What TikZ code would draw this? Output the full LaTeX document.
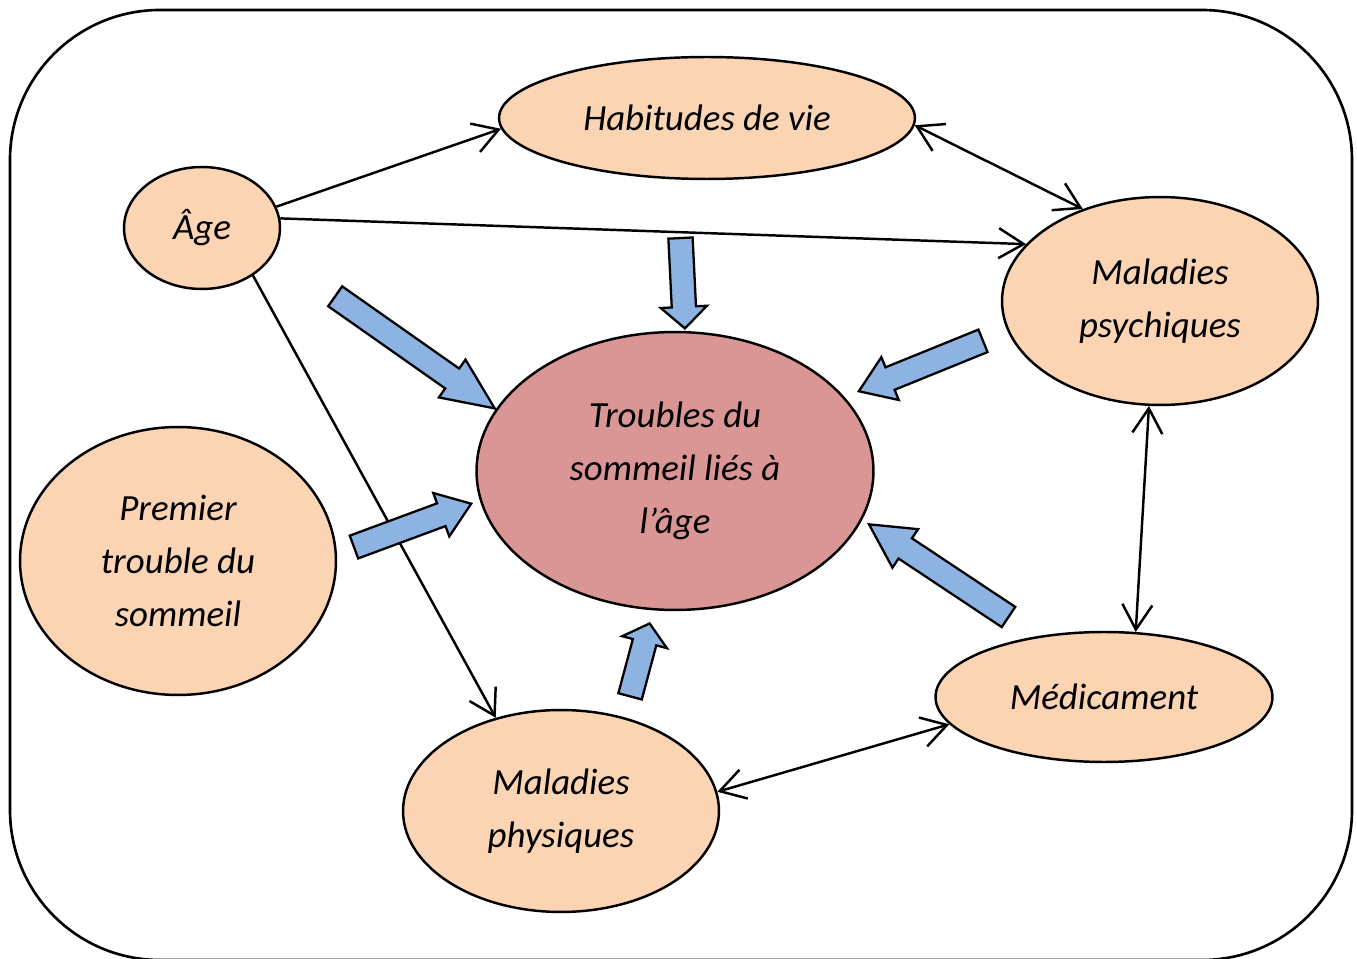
\documentclass[tikz,border=0pt]{standalone}
\usepackage{fontspec}
\setmainfont{Carlito}
\usepackage{tikz}
\usetikzlibrary{shapes.geometric, shapes.arrows, arrows.meta}
\definecolor{orangeclair}{HTML}{FBD4B4}
\definecolor{rougeclair}{HTML}{D99694}
\definecolor{bleuclair}{HTML}{8DB3E2}
\tikzset{
  bulle/.style={ellipse, draw=black, line width=1.4pt, fill=orangeclair, inner sep=0pt, align=center, font=\itshape\fontsize{21}{30}\selectfont},
  centre/.style={bulle, fill=rougeclair},
  lien/.style={line width=1.4pt, -{Straight Barb[length=5mm,width=6mm]}},
  lienbis/.style={line width=1.4pt, {Straight Barb[length=5mm,width=6mm]}-{Straight Barb[length=5mm,width=6mm]}},
  bloc/.style={single arrow, draw=black, line width=1.3pt, fill=bleuclair, inner xsep=0pt, inner ysep=0.22cm, single arrow head extend=0.22cm, minimum width=0pt, anchor=tip}
}

\begin{document}
\begin{tikzpicture}[x=0.02cm, y=0.02cm]
    \useasboundingbox (0,0) rectangle (1357,958);
    \draw[line width=1.5pt, rounded corners=3cm] (10,948) rectangle (1352,-2);

    \node (troubles) [centre, minimum width=7.94cm, minimum height=5.56cm] at (675,487) {Troubles du\\sommeil liés à\\l’âge};
    \node (age) [bulle, minimum width=3.12cm, minimum height=2.44cm] at (202,730) {Âge};
    \node (hab) [bulle, minimum width=8.32cm, minimum height=2.44cm] at (707,840) {Habitudes de vie};
    \node (psy) [bulle, minimum width=6.32cm, minimum height=4.16cm] at (1160,657) {Maladies\\psychiques};
    \node (premier) [bulle, minimum width=6.32cm, minimum height=5.36cm] at (178,397) {Premier\\trouble du\\sommeil};
    \node (med) [bulle, minimum width=6.74cm, minimum height=2.6cm] at (1104,261) {Médicament};
    \node (phy) [bulle, minimum width=6.32cm, minimum height=4.04cm] at (561,147) {Maladies\\physiques};

    % links from age
    \draw[lien] (age.16) -- (hab.183);
    \draw[lien] (age.7) -- (psy.157);
    \draw[lien] (age.-43) -- (phy.125);

    % two-way links
    \draw[lienbis] (hab.-2) -- (psy.130);
    \draw[lienbis] (psy.264) -- (med.64);
    \draw[lienbis] (med.190) -- (phy.7);

    % big arrows into the centre
    \node (f1) [bloc, minimum height=3.9cm, single arrow tip angle=48, rotate=-35.1] at (497,548) {};
    \node (f2) [bloc, minimum height=1.81cm, single arrow tip angle=94, rotate=-87.2] at (685,628) {};
    \node (f3) [bloc, minimum height=2.68cm, single arrow tip angle=69, rotate=202.1] at (857,566) {};
    \node (f4) [bloc, minimum height=2.5cm, single arrow tip angle=72, rotate=20.3] at (473,455) {};
    \node (f5) [bloc, minimum height=3.35cm, single arrow tip angle=56, rotate=146.4] at (867,435) {};
    \node (f6) [bloc, minimum height=1.51cm, single arrow tip angle=100, rotate=75] at (650,336) {};
  \end{tikzpicture}
\end{document}
